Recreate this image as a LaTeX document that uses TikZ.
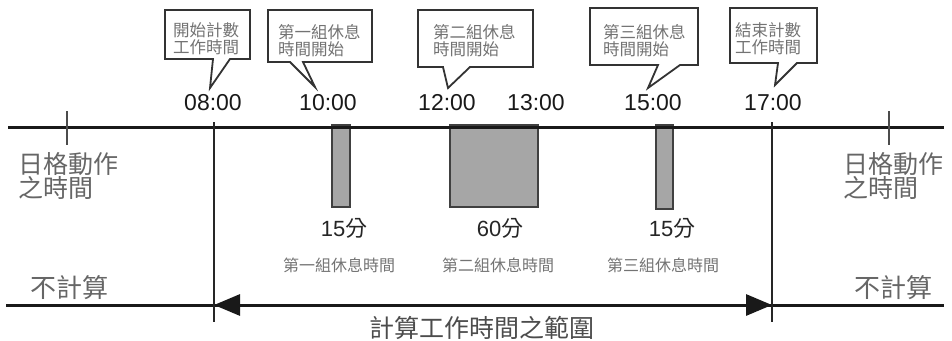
\documentclass[tikz,border=0pt]{standalone}
\usepackage{fontspec}
\setmainfont{Liberation Sans}
\newfontfamily\cjk{Noto Sans CJK TC}
\usetikzlibrary{arrows.meta}
\begin{document}
\begin{tikzpicture}[x=1pt,y=-1pt,
 axisline/.style={line width=3pt,black!90},
 vline/.style={line width=1.6pt,black!85},
 tickline/.style={line width=1.6pt,black!70},
 bar/.style={draw=black!75,line width=1.5pt,fill=black!35},
 callout/.style={draw=black!80,line width=1.8pt,fill=white,line join=miter},
 calltext/.style={font=\cjk\fontsize{16.5}{17}\selectfont,text=black!55,align=left,inner sep=0pt,anchor=north west},
 timelbl/.style={font=\fontsize{23}{23}\selectfont,text=black!90,inner sep=0pt},
 durlbl/.style={font=\fontsize{22}{22}\selectfont,text=black!85,inner sep=0pt},
 smalllbl/.style={font=\cjk\fontsize{16}{16}\selectfont,text=black!55,inner sep=0pt},
 sidelbl/.style={font=\cjk\fontsize{25}{24}\selectfont,text=black!60,inner sep=0pt,align=left},
 rangearrow/.style={line width=3pt,black!90,{Triangle[length=26pt,width=21pt]}-{Triangle[length=26pt,width=21pt]}},
]
\useasboundingbox (0,0) rectangle (952,340);

% bars
\draw[bar] (332,125) rectangle (350,207);
\draw[bar] (450,125) rectangle (538,207);
\draw[bar] (656,125) rectangle (673,209);

% coordinates
\coordinate (axL) at (8,127);
\coordinate (axR) at (944,127);
\coordinate (bL) at (6,305);
\coordinate (bR) at (944,305);
\coordinate (v1t) at (214,122);
\coordinate (v1b) at (214,322);
\coordinate (v2t) at (772,122);
\coordinate (v2b) at (772,322);
\coordinate (a1) at (214,305);
\coordinate (a2) at (772,305);
\coordinate (t1t) at (67,111);
\coordinate (t1b) at (67,145);
\coordinate (t2t) at (889,111);
\coordinate (t2b) at (889,145);

\draw[axisline] (axL) -- (axR);
\draw[axisline] (bL) -- (bR);
\draw[vline] (v1t) -- (v1b);
\draw[vline] (v2t) -- (v2b);
\draw[tickline] (t1t) -- (t1b);
\draw[tickline] (t2t) -- (t2b);
\draw[rangearrow] (a1) -- (a2);

% callouts
\draw[callout] (165,10) -- (250,10) -- (250,59) -- (230,59) -- (210,88) -- (213,59) -- (165,59) -- cycle;
\draw[callout] (268,10) -- (372,10) -- (372,62) -- (303,62) -- (315,87) -- (290,62) -- (268,62) -- cycle;
\draw[callout] (418,10) -- (533,10) -- (533,67) -- (470,67) -- (448,88) -- (443,67) -- (418,67) -- cycle;
\draw[callout] (590,8) -- (698,8) -- (698,65) -- (680,65) -- (648,88) -- (658,65) -- (590,65) -- cycle;
\draw[callout] (730,8) -- (817,8) -- (817,63) -- (797,63) -- (775,85) -- (778,63) -- (730,63) -- cycle;

\node[calltext] (c1) at (173,22) {開始計數\\工作時間};
\node[calltext] (c2) at (278,24) {第一組休息\\時間開始};
\node[calltext] (c3) at (433,24) {第二組休息\\時間開始};
\node[calltext] (c4) at (603,24) {第三組休息\\時間開始};
\node[calltext] (c5) at (735,22) {結束計數\\工作時間};

% times
\node[timelbl] (h08) at (213,103) {08:00};
\node[timelbl] (h10) at (328,103) {10:00};
\node[timelbl] (h12) at (447,103) {12:00};
\node[timelbl] (h13) at (536,103) {13:00};
\node[timelbl] (h15) at (653,103) {15:00};
\node[timelbl] (h17) at (773,103) {17:00};

% durations
\node[durlbl] (d1) at (344,228) {15{\cjk 分}};
\node[durlbl] (d2) at (500,228) {60{\cjk 分}};
\node[durlbl] (d3) at (672,228) {15{\cjk 分}};

\node[smalllbl] (s1) at (339,265) {第一組休息時間};
\node[smalllbl] (s2) at (498,265) {第二組休息時間};
\node[smalllbl] (s3) at (663,265) {第三組休息時間};

% side labels
\node[sidelbl,anchor=north west] (sl) at (18,152) {日格動作\\之時間};
\node[sidelbl,anchor=north west] (sr) at (843,152) {日格動作\\之時間};
\node[sidelbl,font=\cjk\fontsize{26}{26}\selectfont] (nl) at (69,288) {不計算};
\node[sidelbl,font=\cjk\fontsize{26}{26}\selectfont] (nr) at (893,288) {不計算};

\node[font=\cjk\fontsize{25}{25}\selectfont,text=black!70,inner sep=0pt] (rng) at (482,328) {計算工作時間之範圍};
\end{tikzpicture}
\end{document}
